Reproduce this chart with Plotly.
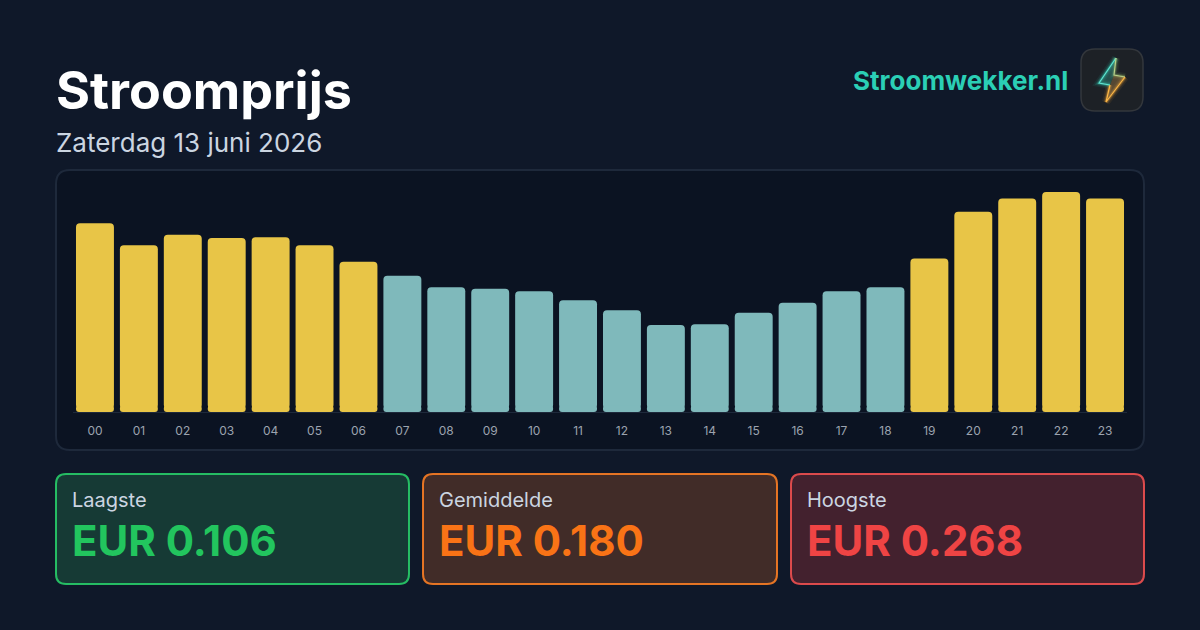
import plotly.graph_objects as go

# Hourly prices
hours = ["00", "01", "02", "03", "04", "05", "06", "07", "08", "09", "10", "11",
         "12", "13", "14", "15", "16", "17", "18", "19", "20", "21", "22", "23"]
prices = [0.230, 0.203, 0.216, 0.212, 0.213, 0.203, 0.183, 0.166, 0.152, 0.150, 0.147, 0.136,
          0.124, 0.106, 0.107, 0.121, 0.133, 0.147, 0.152, 0.187, 0.244, 0.260, 0.268, 0.260]
average = 0.180

stat_labels = ["Laagste", "Gemiddelde", "Hoogste"]
stat_values = ["EUR 0.106", "EUR 0.180", "EUR 0.268"]

W, H = 1200, 630
FONT = "Inter"
YELLOW = "#e8c547"
TEAL = "#7fb9bb"


def px(x):
    return x / W


def py(y):
    return 1 - y / H


def round_rect(x0, y0, x1, y1, r, fill, line, width=2):
    # rounded box in pixel coordinates, drawn behind the bars
    p = (
        f"M {px(x0 + r)} {py(y0)} L {px(x1 - r)} {py(y0)} Q {px(x1)} {py(y0)} {px(x1)} {py(y0 + r)} "
        f"L {px(x1)} {py(y1 - r)} Q {px(x1)} {py(y1)} {px(x1 - r)} {py(y1)} "
        f"L {px(x0 + r)} {py(y1)} Q {px(x0)} {py(y1)} {px(x0)} {py(y1 - r)} "
        f"L {px(x0)} {py(y0 + r)} Q {px(x0)} {py(y0)} {px(x0 + r)} {py(y0)} Z"
    )
    return dict(type="path", xref="paper", yref="paper", path=p, fillcolor=fill,
                line=dict(color=line, width=width), layer="below")


def poly(points, color, width, fill="rgba(0,0,0,0)"):
    p = "M " + " L ".join(f"{px(a)} {py(b)}" for a, b in points)
    return dict(type="path", xref="paper", yref="paper", path=p, fillcolor=fill,
                line=dict(color=color, width=width), layer="above")


def label(x, y, text, size, color, weight=400, anchor="left"):
    return dict(xref="paper", yref="paper", x=px(x), y=py(y), text=text, showarrow=False,
                xanchor=anchor, yanchor="middle",
                font=dict(family=FONT, size=size, color=color, weight=weight))


colors = [YELLOW if p > average else TEAL for p in prices]

fig = go.Figure()
# main bars have a rounded top, the short stub rounds the bottom corners
fig.add_trace(go.Bar(x=hours, y=[p - 0.004 for p in prices], base=0.004,
                     marker=dict(color=colors, line_width=0, cornerradius=4)))
fig.add_trace(go.Bar(x=hours, y=[-0.008] * len(hours), base=0.008,
                     marker=dict(color=colors, line_width=0, cornerradius=4)))

shapes = [
    round_rect(56, 170, 1144, 450, 14, "#0b1322", "#1e293b"),
    round_rect(56, 474, 409, 584, 10, "#163a35", "rgba(40,205,105,0.9)"),
    round_rect(423, 474, 777, 584, 10, "#412c28", "rgba(249,125,35,0.9)"),
    round_rect(791, 474, 1144, 584, 10, "#43212e", "rgba(240,80,80,0.9)"),
    round_rect(1081, 49, 1143, 111, 14, "#1d2126", "#33373c", 1.5),
]

# lightning bolt of the logo, teal at the top and orange at the bottom
bolt_top = [(1116, 58), (1099, 83), (1110, 85)]
bolt_mid = [(1116, 58), (1114, 75), (1125, 77)]
bolt_low = [(1125, 77), (1106, 102), (1110, 85)]
for w, a in [(8, 0.08), (5, 0.15), (3, 0.3)]:
    shapes.append(poly(bolt_top, f"rgba(45,212,191,{a})", w))
    shapes.append(poly(bolt_mid, f"rgba(150,190,110,{a})", w))
    shapes.append(poly(bolt_low, f"rgba(251,170,50,{a})", w))
shapes.append(poly(bolt_top + [(1114, 75)], "rgba(0,0,0,0)", 0, "rgba(50,150,135,0.4)"))
shapes.append(poly(bolt_low + [(1114, 75)], "rgba(0,0,0,0)", 0, "rgba(170,130,70,0.4)"))
shapes.append(poly(bolt_top, "#5fe6d2", 1.2))
shapes.append(poly(bolt_mid, "#b8d088", 1.2))
shapes.append(poly(bolt_low, "#fcb848", 1.2))

annotations = [
    label(54, 91, "Stroomprijs", 52, "#ffffff", 700),
    label(54, 143, "Zaterdag 13 juni 2026", 26, "#cbd5e1"),
    label(1070, 81, "Stroomwekker.nl", 26, "#2bcfb5", 700, "right"),
]
stat_x = [70, 437, 805]
stat_colors = ["#22c55e", "#f97316", "#ef4444"]
for x, name, val, col in zip(stat_x, stat_labels, stat_values, stat_colors):
    annotations.append(label(x, 500.5, name, 20, "#cbd5e1"))
    annotations.append(label(x, 540.5, val, 42, col, 700))

fig.update_layout(
    width=W, height=H,
    margin=dict(l=0, r=0, t=0, b=0),
    paper_bgcolor="#0f1829",
    plot_bgcolor="rgba(0,0,0,0)",
    barmode="overlay",
    bargap=0.136,
    showlegend=False,
    shapes=shapes,
    annotations=annotations,
    xaxis=dict(domain=[px(73), px(1127)], type="category", showgrid=False, zeroline=False,
               showline=True, linecolor="#1e293b", linewidth=1,
               ticks="outside", ticklen=8, tickcolor="rgba(0,0,0,0)",
               tickfont=dict(family=FONT, size=12, color="#9ca3af")),
    yaxis=dict(domain=[py(412), py(192)], range=[0, 0.268], visible=False),
)

fig.write_html("out.html", config=dict(displayModeBar=False),
               post_script="document.body.style.margin='0';")
